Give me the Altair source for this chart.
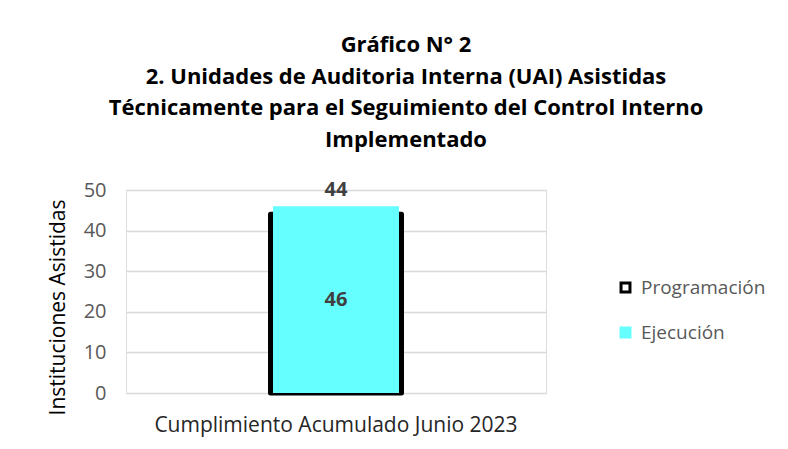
import altair as alt
import pandas as pd

categories = ["Cumplimiento Acumulado Junio 2023"]
series = ["Programación", "Ejecución"]
programacion = [44]
ejecucion = [46]
title_lines = [
    "Gráfico N° 2",
    "2. Unidades de Auditoria Interna (UAI) Asistidas",
    "Técnicamente para el Seguimiento del Control Interno",
    "Implementado",
]

df = pd.DataFrame({
    "categoria": categories * 2,
    "serie": [series[0]] * len(programacion) + [series[1]] * len(ejecucion),
    "valor": programacion + ejecucion,
})

FONT = "Open Sans"
fill_scale = alt.Scale(domain=series, range=["white", "#66FFFF"])
stroke_scale = alt.Scale(domain=series, range=["black", "#66FFFF"])
legend = alt.Legend(
    title=None, orient="none", legendX=490, legendY=88,
    symbolType="square", symbolSize=80, symbolStrokeWidth=3,
    labelFont=FONT, labelFontSize=19, labelColor="#595959",
    rowPadding=24, labelOffset=6,
)

x = alt.X("categoria:N", title=None,
          axis=alt.Axis(labelAngle=0, ticks=False, domain=False, labelPadding=21,
                        labelLimit=0,
                        labelFont=FONT, labelFontSize=21, labelColor="#262626"))
y = alt.Y("valor:Q", title="Instituciones Asistidas",
          scale=alt.Scale(domain=[0, 50]),
          axis=alt.Axis(values=[0, 10, 20, 30, 40, 50], ticks=False, domain=False,
                        labelPadding=20, labelFont=FONT, labelFontSize=20,
                        labelColor="#595959", titleFont=FONT, titleFontSize=21,
                        titleFontWeight="normal", titleColor="#000000",
                        titleX=-68, titleY=117, titleBaseline="middle",
                        gridColor="#D9D9D9", gridWidth=1.3))

base = alt.Chart(df)

prog = base.transform_filter(alt.datum.serie == series[0]).mark_bar(
    size=131, strokeWidth=5, strokeJoin="round"
).encode(
    x=x, y=y,
    fill=alt.Fill("serie:N", scale=fill_scale, legend=legend),
    stroke=alt.Stroke("serie:N", scale=stroke_scale, legend=legend),
)

ejec = base.transform_filter(alt.datum.serie == series[1]).mark_bar(
    size=126, strokeWidth=0
).encode(
    x=x, y=y,
    fill=alt.Fill("serie:N", scale=fill_scale, legend=legend),
    stroke=alt.Stroke("serie:N", scale=stroke_scale, legend=legend),
)

lab_prog = base.transform_filter(alt.datum.serie == series[0]).mark_text(
    font=FONT, fontSize=20, fontWeight="bold", color="#404040",
    baseline="middle", dy=-24
).encode(x=x, y=y, text="valor:Q")

lab_ejec = base.transform_filter(alt.datum.serie == series[1]).transform_calculate(
    mid="datum.valor / 2"
).mark_text(
    font=FONT, fontSize=20, fontWeight="bold", color="#404040", baseline="middle"
).encode(x=x, y=alt.Y("mid:Q"), text="valor:Q")

chart = alt.layer(prog, ejec, lab_prog, lab_ejec).properties(
    width=420, height=203,
    padding={"left": 118, "top": 182, "right": 234, "bottom": 48},
    autosize=alt.AutoSizeParams(type="none"),
    title=alt.TitleParams(
        text=title_lines, anchor="middle", dx=70, offset=28,
        font=FONT, fontSize=22, fontWeight="bold", color="#000000",
        lineHeight=31.7,
    ),
).configure_view(stroke=None).configure(background="white")

chart.save("out.html", embed_options={"renderer": "svg", "actions": False})
